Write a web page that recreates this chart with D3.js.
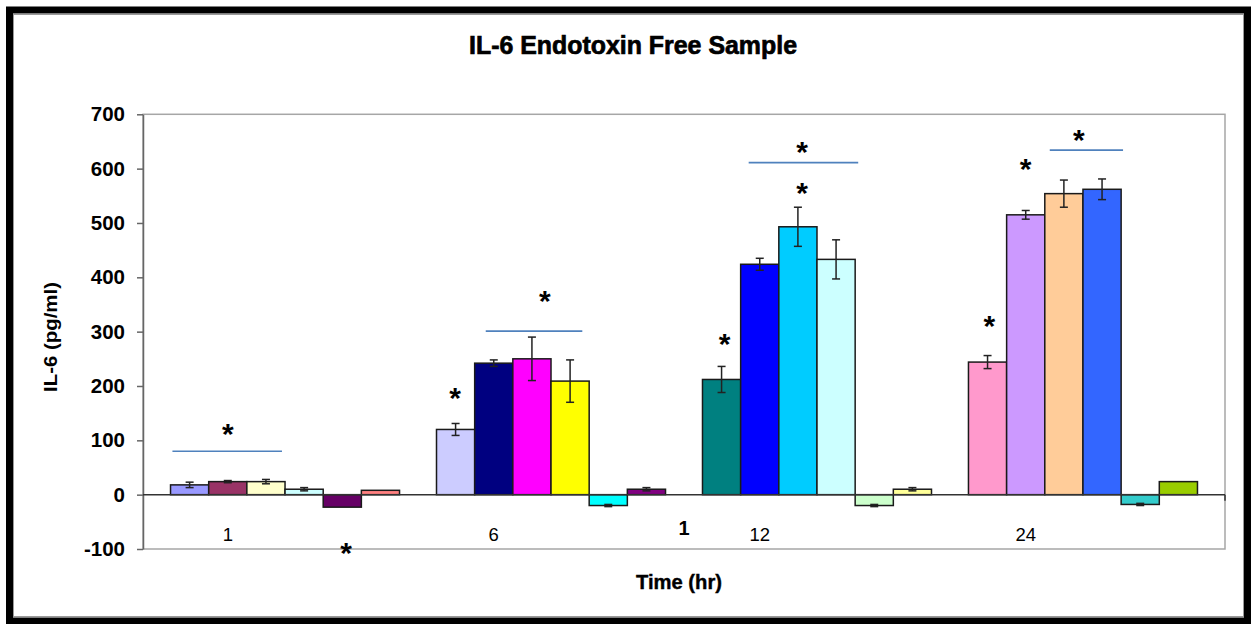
<!DOCTYPE html>
<html>
<head>
<meta charset="utf-8">
<script src="https://cdn.jsdelivr.net/npm/d3@7"></script>
<style>
  html, body { margin: 0; padding: 0; background: #fff; }
  svg { display: block; font-family: "Liberation Sans", Arial, sans-serif; }
</style>
</head>
<body>
<svg id="chart" width="1251" height="624"></svg>
<script>
// Time points (hours)
const categories = ["1", "6", "12", "24"];

// Mean IL-6 (pg/ml) for the six samples at each time point
const time1  = [18, 24, 24, 10, -23, 8];
const time6  = [120, 242, 250, 209, -20, 10];
const time12 = [212, 424, 493, 433, -20, 10];
const time24 = [244, 515, 554, 562, -18, 24];

// Standard error for each bar
const err1  = [5, 2, 4, 3, 0, 0];
const err6  = [11, 6, 40, 39, 2, 3];
const err12 = [24, 11, 36, 36, 2, 3];
const err24 = [12, 8, 25, 19, 2, 0];

// Fill colour of each bar
const colors1  = ["#9999FF", "#993366", "#FFFFCC", "#CCFFFF", "#660066", "#FF8080"];
const colors6  = ["#CCCCFF", "#000080", "#FF00FF", "#FFFF00", "#00FFFF", "#800080"];
const colors12 = ["#008080", "#0000FF", "#00CCFF", "#CCFFFF", "#CCFFCC", "#FFFF99"];
const colors24 = ["#FF99CC", "#CC99FF", "#FFCC99", "#3366FF", "#33CCCC", "#99CC00"];

const yTicks = [-100, 0, 100, 200, 300, 400, 500, 600, 700];

// Significance bars: category, start/end in bar units from group start, level (pg/ml)
const sigLines = [
  { cat: "1",  from: 0.05, to: 2.92, level: 80 },
  { cat: "6",  from: 1.29, to: 3.82, level: 301 },
  { cat: "12", from: 1.21, to: 4.08, level: 611 },
  { cat: "24", from: 2.13, to: 4.05, level: 634 }
];

// Asterisks: category, position in bar units, level (pg/ml)
const stars = [
  { cat: "1",  pos: 1.50, level: 124 },
  { cat: "1",  pos: 4.60, level: -95 },
  { cat: "6",  pos: 0.49, level: 191 },
  { cat: "6",  pos: 2.84, level: 369 },
  { cat: "12", pos: 0.58, level: 290 },
  { cat: "12", pos: 2.61, level: 568 },
  { cat: "12", pos: 2.61, level: 643 },
  { cat: "24", pos: 0.55, level: 324 },
  { cat: "24", pos: 1.50, level: 612 },
  { cat: "24", pos: 2.89, level: 665 }
];

const groups = [
  { cat: "1",  values: time1,  errs: err1,  colors: colors1 },
  { cat: "6",  values: time6,  errs: err6,  colors: colors6 },
  { cat: "12", values: time12, errs: err12, colors: colors12 },
  { cat: "24", values: time24, errs: err24, colors: colors24 }
];

const svg = d3.select("#chart");
const plot = { left: 143, right: 1225, top: 114.3, bottom: 549 };

// Outer frame
svg.append("rect")
  .attr("x", 9.5).attr("y", 10)
  .attr("width", 1238).attr("height", 611)
  .attr("fill", "#fff").attr("stroke", "#000").attr("stroke-width", 7);
svg.append("rect")
  .attr("x", 13.5).attr("y", 14.5)
  .attr("width", 1230).attr("height", 602)
  .attr("fill", "none").attr("stroke", "#9a9a9a").attr("stroke-width", 1);

// Scales
const x0 = d3.scaleBand()
  .domain(categories)
  .range([plot.left, plot.right])
  .paddingInner(0.139)
  .paddingOuter(0.1035);

const x1 = d3.scaleBand()
  .domain(d3.range(6))
  .range([0, x0.bandwidth()]);

const barW = x1.bandwidth();

const y = d3.scaleLinear()
  .domain([-100, 700])
  .range([plot.bottom, plot.top]);

// Plot area border
svg.append("rect")
  .attr("x", plot.left).attr("y", plot.top)
  .attr("width", plot.right - plot.left).attr("height", plot.bottom - plot.top)
  .attr("fill", "none").attr("stroke", "#a6a6a6").attr("stroke-width", 1.5);

// Y axis
const yAxis = svg.append("g")
  .attr("transform", `translate(${plot.left},0)`)
  .call(d3.axisLeft(y)
    .tickValues(yTicks)
    .tickFormat(d => String(d))
    .tickSize(6).tickPadding(12).tickSizeOuter(0));
yAxis.select(".domain").attr("stroke", "#666").attr("stroke-width", 1.5);
yAxis.selectAll(".tick line").attr("stroke", "#666").attr("stroke-width", 1.5);
yAxis.selectAll(".tick text")
  .attr("fill", "#000")
  .style("font-size", "20.5px")
  .style("font-weight", "bold")
  .style("font-family", "'Liberation Sans', Arial, sans-serif");

// Bars
const gGroups = svg.selectAll("g.group")
  .data(groups)
  .join("g")
  .attr("class", "group")
  .attr("transform", d => `translate(${x0(d.cat)},0)`);

gGroups.selectAll("rect.bar")
  .data(d => d.values.map((v, i) => ({ v, i, color: d.colors[i], e: d.errs[i] })))
  .join("rect")
  .attr("class", "bar")
  .attr("x", d => x1(d.i))
  .attr("y", d => y(Math.max(0, d.v)))
  .attr("width", barW)
  .attr("height", d => Math.abs(y(d.v) - y(0)))
  .attr("fill", d => d.color)
  .attr("stroke", "#1a1a1a")
  .attr("stroke-width", 1.5);

// Error bars
const eb = gGroups.selectAll("g.err")
  .data(d => d.values.map((v, i) => ({ v, i, e: d.errs[i] })).filter(d => d.e > 0))
  .join("g")
  .attr("class", "err")
  .attr("stroke", "#222")
  .attr("stroke-width", 1.5);
eb.append("line")
  .attr("x1", d => x1(d.i) + barW / 2).attr("x2", d => x1(d.i) + barW / 2)
  .attr("y1", d => y(d.v - d.e)).attr("y2", d => y(d.v + d.e));
eb.append("line")
  .attr("x1", d => x1(d.i) + barW / 2 - 4).attr("x2", d => x1(d.i) + barW / 2 + 4)
  .attr("y1", d => y(d.v + d.e)).attr("y2", d => y(d.v + d.e));
eb.append("line")
  .attr("x1", d => x1(d.i) + barW / 2 - 4).attr("x2", d => x1(d.i) + barW / 2 + 4)
  .attr("y1", d => y(d.v - d.e)).attr("y2", d => y(d.v - d.e));

// Zero line across the plot
svg.append("line")
  .attr("x1", plot.left).attr("x2", plot.right)
  .attr("y1", y(0)).attr("y2", y(0))
  .attr("stroke", "#333").attr("stroke-width", 1.5);
svg.append("line")
  .attr("x1", plot.right).attr("x2", plot.right)
  .attr("y1", y(0)).attr("y2", y(0) + 6)
  .attr("stroke", "#333").attr("stroke-width", 1.5);

// Category labels
svg.selectAll("text.cat")
  .data(categories)
  .join("text")
  .attr("class", "cat")
  .attr("x", d => x0(d) + barW * 1.5)
  .attr("y", 541)
  .attr("text-anchor", "middle")
  .style("font-size", "18.5px")
  .text(d => d);

// Stray bold label between the 6 and 12 hour groups
svg.append("text")
  .attr("x", x0("12") - (x0.step() - x0.bandwidth()) / 2)
  .attr("y", 534.5)
  .attr("text-anchor", "middle")
  .style("font-size", "20px")
  .style("font-weight", "bold")
  .text("1");

// Significance lines
svg.selectAll("line.sig")
  .data(sigLines)
  .join("line")
  .attr("class", "sig")
  .attr("x1", d => x0(d.cat) + d.from * barW)
  .attr("x2", d => x0(d.cat) + d.to * barW)
  .attr("y1", d => y(d.level)).attr("y2", d => y(d.level))
  .attr("stroke", "#4f81bd").attr("stroke-width", 1.6);

// Asterisks
const starSize = 30;
svg.selectAll("text.star")
  .data(stars)
  .join("text")
  .attr("class", "star")
  .attr("x", d => x0(d.cat) + d.pos * barW)
  .attr("y", d => y(d.level) + starSize * 0.57)
  .attr("text-anchor", "middle")
  .style("font-size", starSize + "px")
  .style("font-weight", "bold")
  .text("*");

// Title
svg.append("text")
  .attr("x", 633).attr("y", 54)
  .attr("text-anchor", "middle")
  .attr("textLength", 328)
  .attr("lengthAdjust", "spacingAndGlyphs")
  .attr("stroke", "#000").attr("stroke-width", 0.7)
  .style("font-size", "26px")
  .style("font-weight", "bold")
  .text("IL-6 Endotoxin Free Sample");

// Axis titles
svg.append("text")
  .attr("x", 679).attr("y", 589)
  .attr("text-anchor", "middle")
  .attr("textLength", 86)
  .attr("lengthAdjust", "spacingAndGlyphs")
  .attr("stroke", "#000").attr("stroke-width", 0.4)
  .style("font-size", "20px")
  .style("font-weight", "bold")
  .text("Time (hr)");

svg.append("text")
  .attr("transform", "translate(57,337) rotate(-90)")
  .attr("text-anchor", "middle")
  .attr("textLength", 110)
  .attr("lengthAdjust", "spacingAndGlyphs")
  .style("font-size", "19px")
  .style("font-weight", "bold")
  .text("IL-6 (pg/ml)");
</script>
</body>
</html>
